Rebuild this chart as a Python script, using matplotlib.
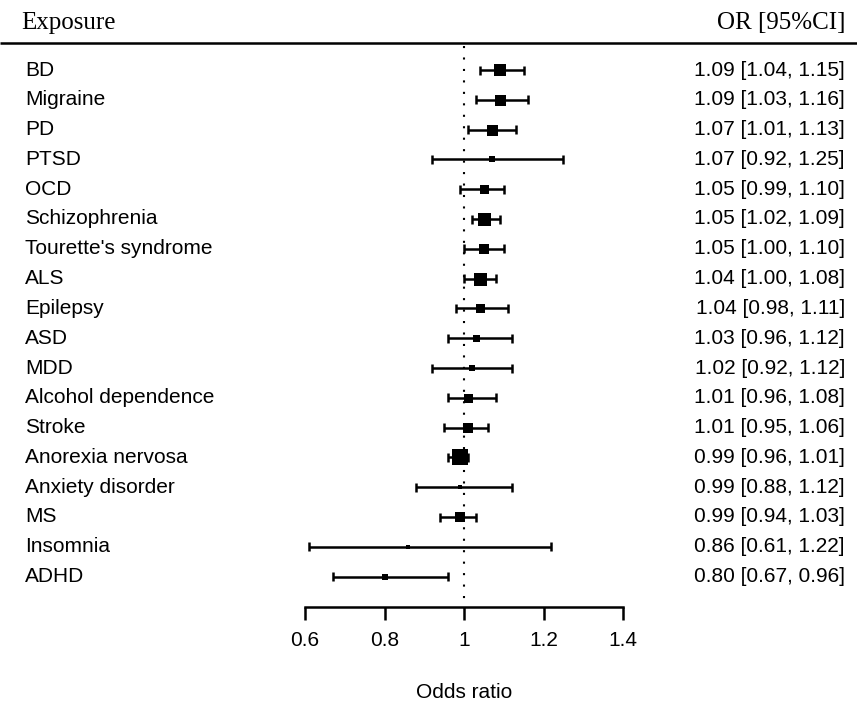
import numpy as np
import matplotlib
matplotlib.use("Agg")
import matplotlib.pyplot as plt

# data
exposures = ["BD", "Migraine", "PD", "PTSD", "OCD", "Schizophrenia",
             "Tourette's syndrome", "ALS", "Epilepsy", "ASD", "MDD",
             "Alcohol dependence", "Stroke", "Anorexia nervosa",
             "Anxiety disorder", "MS", "Insomnia", "ADHD"]
odds = [1.09, 1.09, 1.07, 1.07, 1.05, 1.05, 1.05, 1.04, 1.04, 1.03, 1.02,
        1.01, 1.01, 0.99, 0.99, 0.99, 0.86, 0.80]
lower = [1.04, 1.03, 1.01, 0.92, 0.99, 1.02, 1.00, 1.00, 0.98, 0.96, 0.92,
         0.96, 0.95, 0.96, 0.88, 0.94, 0.61, 0.67]
upper = [1.15, 1.16, 1.13, 1.25, 1.10, 1.09, 1.10, 1.08, 1.11, 1.12, 1.12,
         1.08, 1.06, 1.01, 1.12, 1.03, 1.22, 0.96]
# relative weight (box size, px)
weights = [12, 11, 11, 6, 9, 13, 10, 13, 9, 7, 6, 9, 10, 16, 5, 10, 5, 6]
ticks = [0.6, 0.8, 1.0, 1.2, 1.4]
tick_labels = ["0.6", "0.8", "1", "1.2", "1.4"]

W, H = 857, 705
px_per_unit = 397.5
x0_px = 305  # pixel of OR 0.6

fig = plt.figure(figsize=(W / 100, H / 100), dpi=100)
ax = fig.add_axes([0, 0, 1, 1])
xmin = 0.6 - x0_px / px_per_unit
xmax = xmin + W / px_per_unit
ax.set_xlim(xmin, xmax)
ax.set_ylim(H, 0)
ax.axis("off")

def px(x):
    return xmin + x / px_per_unit

row_top, row_step = 70, 29.8
ys = row_top + row_step * np.arange(len(exposures))

sans = "Liberation Sans"
serif = "Liberation Serif"
fs = 15

# header
ax.text(px(21), 23, "Exposure", family=serif, fontsize=18, va="center", ha="left")
ax.text(px(846), 23, "OR [95%CI]", family=serif, fontsize=18, va="center", ha="right")
ax.plot([xmin, xmax], [43, 43], color="black", lw=1.8, solid_capstyle="butt")

# reference line
ax.plot([1.0, 1.0], [46, 606], color="black", lw=1.5, linestyle=(0, (1, 4.5)))

for y, name, o, lo, hi, w in zip(ys, exposures, odds, lower, upper, weights):
    ax.plot([lo, hi], [y, y], color="black", lw=1.8, solid_capstyle="butt")
    for c in (lo, hi):
        ax.plot([c, c], [y - 4.5, y + 4.5], color="black", lw=1.8, solid_capstyle="butt")
    ax.plot(o, y, marker="s", color="black", markersize=w * 0.72, markeredgewidth=0)
    ax.text(px(25), y, name, family=sans, fontsize=fs, va="center", ha="left")
    ax.text(px(845), y, f"{o:.2f} [{lo:.2f}, {hi:.2f}]", family=sans,
            fontsize=fs, va="center", ha="right")

# x axis
axis_y = 607
ax.plot([ticks[0], ticks[-1]], [axis_y, axis_y], color="black", lw=1.8, solid_capstyle="projecting")
for t, lab in zip(ticks, tick_labels):
    ax.plot([t, t], [axis_y, axis_y + 13], color="black", lw=1.8, solid_capstyle="butt")
    ax.text(t, 641, lab, family=sans, fontsize=fs, va="center", ha="center")
ax.text(1.0, 692, "Odds ratio", family=sans, fontsize=fs, va="center", ha="center")

fig.savefig("out.png", dpi=100)
